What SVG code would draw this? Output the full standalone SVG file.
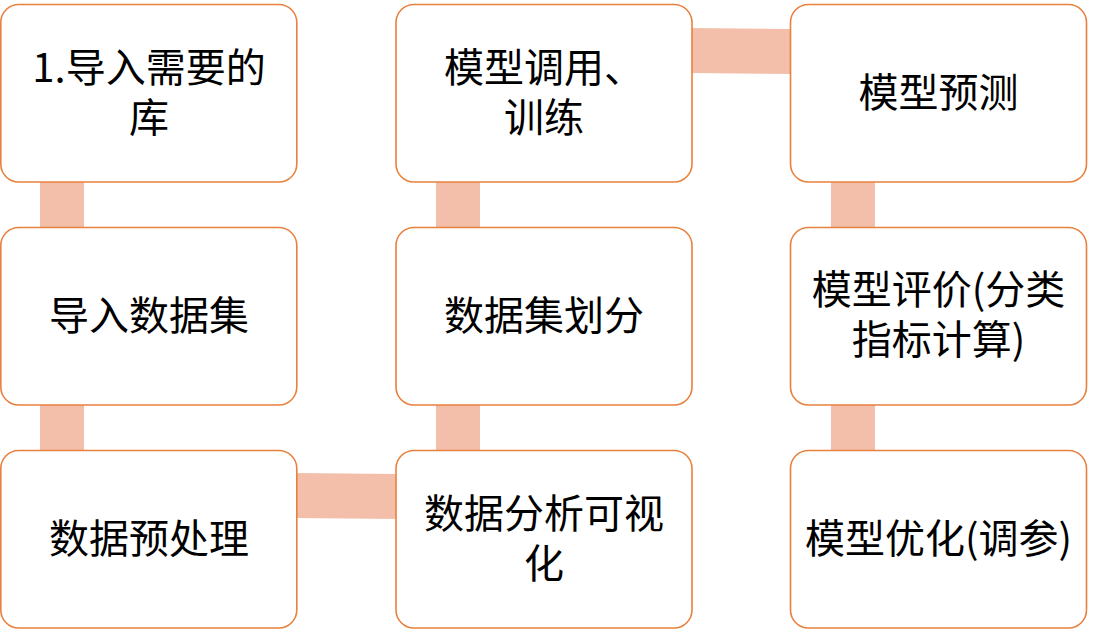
<svg xmlns="http://www.w3.org/2000/svg" width="1093" height="633" viewBox="0 0 1093 633">
<style>
.box{fill:#FFFFFF;stroke:#E8803E;stroke-width:1.6}
.band{fill:#F3BFAA;stroke:none}
.t{font-family:"Microsoft YaHei","Noto Sans CJK SC","Noto Sans",sans-serif;font-size:40px;fill:#000000;text-anchor:middle}
</style>
<rect width="1093" height="633" fill="#FFFFFF"/>
<g id="connectors">
<rect class="band" x="40" y="180" width="44" height="50"/>
<rect class="band" x="40" y="403" width="44" height="50"/>
<rect class="band" x="436" y="180" width="44" height="50"/>
<rect class="band" x="436" y="403" width="44" height="50"/>
<rect class="band" x="831" y="180" width="44" height="50"/>
<rect class="band" x="831" y="403" width="44" height="50"/>
<polygon class="band" points="295,473 397,474 397,519 295,518"/>
<polygon class="band" points="690,28 792,29 792,74 690,73"/>
</g>
<g id="n1"><rect class="box" x="0.8" y="4.5" width="296" height="177.5" rx="18"/><text class="t" x="149" y="82">1.导入需要的</text><text class="t" x="149" y="132">库</text></g>
<g id="n2"><rect class="box" x="0.8" y="227.5" width="296" height="177.5" rx="18"/><text class="t" x="149" y="330">导入数据集</text></g>
<g id="n3"><rect class="box" x="0.8" y="450.5" width="296" height="177.5" rx="18"/><text class="t" x="149" y="553">数据预处理</text></g>
<g id="n4"><rect class="box" x="396" y="450.5" width="296" height="177.5" rx="18"/><text class="t" x="544" y="528">数据分析可视</text><text class="t" x="544" y="578">化</text></g>
<g id="n5"><rect class="box" x="396" y="227.5" width="296" height="177.5" rx="18"/><text class="t" x="544" y="330">数据集划分</text></g>
<g id="n6"><rect class="box" x="396" y="4.5" width="296" height="177.5" rx="18"/><text class="t" x="544" y="82">模型调用、</text><text class="t" x="544" y="132">训练</text></g>
<g id="n7"><rect class="box" x="790.5" y="4.5" width="296" height="177.5" rx="18"/><text class="t" x="938.5" y="107">模型预测</text></g>
<g id="n8"><rect class="box" x="790.5" y="227.5" width="296" height="177.5" rx="18"/><text class="t" x="938.5" y="304">模型评价(分类</text><text class="t" x="938.5" y="354">指标计算)</text></g>
<g id="n9"><rect class="box" x="790.5" y="450.5" width="296" height="177.5" rx="18"/><text class="t" x="938.5" y="553">模型优化(调参)</text></g>
</svg>
